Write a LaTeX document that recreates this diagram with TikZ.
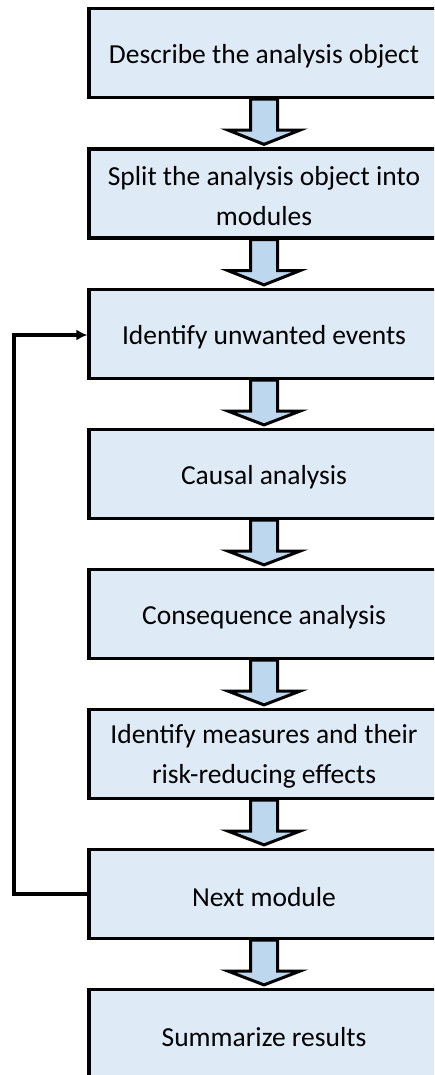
\documentclass[tikz,border=0pt]{standalone}
\usepackage{fontspec}
\setmainfont{Carlito}
\usetikzlibrary{arrows.meta,calc}
\definecolor{boxfill}{HTML}{DEEBF7}
\definecolor{arrowfill}{HTML}{BDD7EE}
\begin{document}
\begin{tikzpicture}[x=1pt,y=-1pt,
  stepbox/.style={draw=black, line width=3.2pt, fill=boxfill, minimum width=350pt,
    minimum height=89pt, inner sep=0pt},
  steptext/.style={inner sep=0pt, align=center,
    font=\fontsize{27.5}{40.5}\selectfont},
  blockarrow/.style={draw=black, line width=3pt, fill=arrowfill, line join=miter},
  loopline/.style={draw=black, line width=3.2pt, -{Latex[length=11pt,width=11pt]}}]
\useasboundingbox (0,0) rectangle (434,1075);
\clip (0,0) rectangle (434,1075);
\fill[white] (0,0) rectangle (434,1075);
\node[stepbox] (b1) at (264,53) {};
\node[stepbox] (b2) at (264,193.5) {};
\node[stepbox] (b3) at (264,334) {};
\node[stepbox] (b4) at (264,474) {};
\node[stepbox] (b5) at (264,614) {};
\node[stepbox] (b6) at (264,754) {};
\node[stepbox] (b7) at (264,894) {};
\node[stepbox] (b8) at (264,1034) {};
\node[steptext] (t1) at ($(b1.center)+(0,3.5)$) {Describe the analysis object};
\node[steptext] (t2) at ($(b2.center)+(0,2.5)$) {Split the analysis object into\\modules};
\node[steptext] (t3) at ($(b3.center)+(0,3.5)$) {Identify unwanted events};
\node[steptext] (t4) at ($(b4.center)+(0,3.5)$) {Causal analysis};
\node[steptext] (t5) at ($(b5.center)+(0,3.5)$) {Consequence analysis};
\node[steptext] (t6) at ($(b6.center)+(0,2.5)$) {Identify measures and their\\risk-reducing effects};
\node[steptext] (t7) at ($(b7.center)+(0,3.5)$) {Next module};
\node[steptext] (t8) at ($(b8.center)+(0,3.5)$) {Summarize results};
\foreach \a/\b in {b1/b2,b2/b3,b3/b4,b4/b5,b5/b6,b6/b7,b7/b8}{
  \draw[blockarrow] ($(\a.south)+(-13.5,0)$) -- ($(\a.south)+(-13.5,31)$)
    -- ($(\a.south)+(-36,31)$) -- ($(\b.north)+(0,-3)$)
    -- ($(\a.south)+(36,31)$) -- ($(\a.south)+(13.5,31)$)
    -- ($(\a.south)+(13.5,0)$) -- cycle;
}
\coordinate (c1) at (14,894);
\coordinate (c2) at (14,335);
\draw[loopline] (b7.west) -- (c1) -- (c2) -- (b3.west |- c2);
\end{tikzpicture}
\end{document}
